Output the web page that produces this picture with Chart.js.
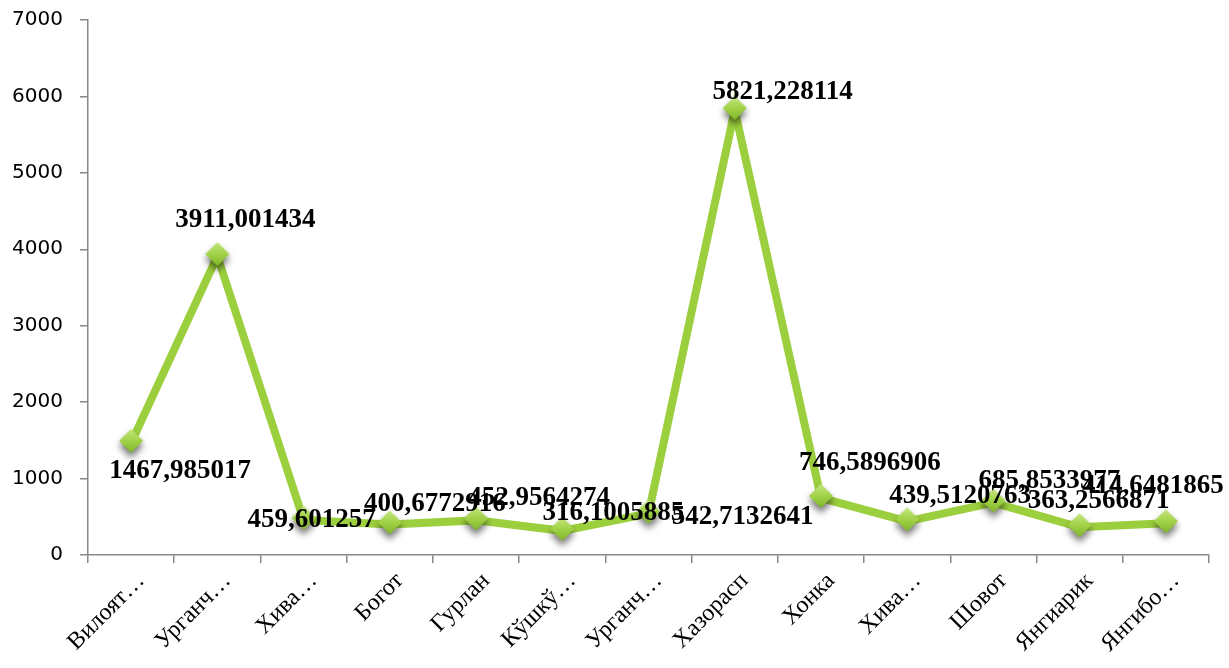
<!DOCTYPE html>
<html>
<head>
<meta charset="utf-8">
<script src="https://cdn.jsdelivr.net/npm/chart.js@4/dist/chart.umd.min.js"></script>
<style>
  html, body { margin: 0; padding: 0; background: #fff; }
  #wrap { width: 1229px; height: 668px; position: relative; }
</style>
</head>
<body>
<div id="wrap"><canvas id="lineChart"></canvas></div>
<script>
// категориялар ва қийматлар
const categories = ["Вилоят…", "Урганч…", "Хива…", "Богот", "Гурлан", "Кўшкў…", "Урганч…",
    "Хазорасп", "Хонка", "Хива…", "Шовот", "Янгиарик", "Янгибо…"];
const values = [1467.985017, 3911.001434, 459.601257, 400.6772916, 452.9564274, 316.1005885,
    542.7132641, 5821.228114, 746.5896906, 439.5120763, 685.8533977, 363.2566871, 414.6481865];
const valueLabels = ["1467,985017", "3911,001434", "459,601257", "400,6772916", "452,9564274",
    "316,1005885", "542,7132641", "5821,228114", "746,5896906", "439,5120763", "685,8533977",
    "363,2566871", "414,6481865"];
const yTicks = [0, 1000, 2000, 3000, 4000, 5000, 6000, 7000];

// label placement relative to the point (px)
const labelShift = [[49, 28], [28, -36], [8, 0], [45, -20], [63, -22], [51, -18], [94, 4],
    [48, -18], [49, -35], [53, -25], [56, -22], [19, -26], [-13, -37]];

// shaded diamond marker with a soft shadow
function makeMarker() {
    const c = document.createElement("canvas");
    c.width = 44; c.height = 48;
    const g = c.getContext("2d");
    const cx = 22, cy = 22, r = 12;
    g.save();
    g.shadowColor = "rgba(0,0,0,0.55)";
    g.shadowBlur = 7;
    g.shadowOffsetY = 5;
    g.beginPath();
    g.moveTo(cx, cy - r); g.lineTo(cx + r, cy); g.lineTo(cx, cy + r); g.lineTo(cx - r, cy);
    g.closePath();
    const grad = g.createLinearGradient(0, cy - r, 0, cy + r);
    grad.addColorStop(0, "#c4e77f");
    grad.addColorStop(0.5, "#a2d247");
    grad.addColorStop(1, "#7fb52a");
    g.fillStyle = grad;
    g.fill();
    g.restore();
    return c;
}
const marker = makeMarker();

const valueLabelPlugin = {
    id: "valueLabels",
    afterDatasetsDraw(chart) {
        const ctx = chart.ctx;
        const meta = chart.getDatasetMeta(0);
        ctx.save();
        ctx.font = "bold 27px 'Liberation Serif', 'Times New Roman', serif";
        ctx.fillStyle = "#000";
        ctx.textAlign = "center";
        ctx.textBaseline = "middle";
        meta.data.forEach((pt, i) => {
            ctx.fillText(valueLabels[i], pt.x + labelShift[i][0], pt.y + labelShift[i][1]);
        });
        ctx.restore();
    }
};

const ctx = document.getElementById("lineChart").getContext("2d");
new Chart(ctx, {
    type: "line",
    data: {
        labels: categories,
        datasets: [{
            data: values,
            borderColor: "#9ccf3d",
            borderWidth: 8,
            pointStyle: marker,
            pointRadius: 12,
            pointHoverRadius: 12,
            tension: 0,
            fill: false
        }]
    },
    options: {
        responsive: true,
        maintainAspectRatio: false,
        animation: false,
        events: [],
        layout: { padding: { top: 20, right: 17, left: 0, bottom: 0 } },
        plugins: {
            legend: { display: false },
            tooltip: { enabled: false }
        },
        scales: {
            x: {
                offset: true,
                grid: { offset: true, drawOnChartArea: false, drawTicks: true, tickLength: 8, color: "#888", lineWidth: 1.5 },
                border: { color: "#888", width: 1.5 },
                ticks: {
                    color: "#000",
                    maxRotation: 45,
                    minRotation: 45,
                    autoSkip: false,
                    padding: 4,
                    labelOffset: 10,
                    font: { family: "'Liberation Serif', 'Times New Roman', serif", size: 24 }
                },
                afterFit: s => { s.height = 113; s.paddingLeft = 0; s.paddingRight = 0; }
            },
            y: {
                min: 0,
                max: 7000,
                afterBuildTicks: s => { s.ticks = yTicks.map(v => ({ value: v })); },
                grid: { drawOnChartArea: false, drawTicks: true, tickLength: 8, color: "#888", lineWidth: 1.5 },
                border: { color: "#888", width: 1.5 },
                ticks: {
                    color: "#000",
                    padding: 17,
                    callback: v => String(v),
                    font: { family: "'DejaVu Sans', Verdana, sans-serif", size: 20 }
                },
                afterFit: s => { s.width = 88; s.paddingTop = 0; s.paddingBottom = 0; }
            }
        }
    },
    plugins: [valueLabelPlugin]
});
</script>
</body>
</html>
